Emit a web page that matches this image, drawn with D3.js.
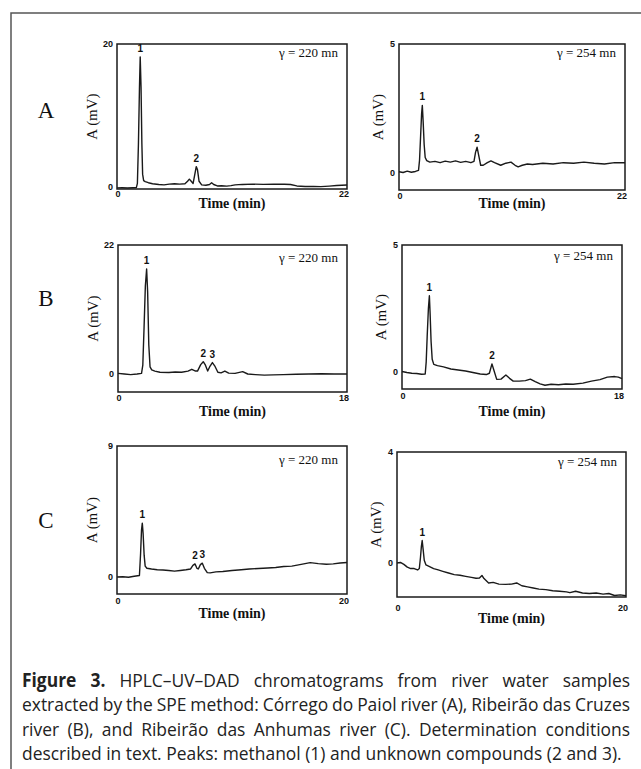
<!DOCTYPE html>
<html>
<head>
<meta charset="utf-8">
<script src="https://cdn.jsdelivr.net/npm/d3@7"></script>
<style>
  html, body { margin: 0; padding: 0; background: #fff; }
  svg { display: block; }
  .frame { fill: none; stroke: #1a1a1a; stroke-width: 1.5; }
  .trace { fill: none; stroke: #1a1a1a; stroke-width: 1.4; stroke-linejoin: round; }
  .tick { font-family: "Liberation Sans", Arial, sans-serif; font-weight: bold; font-size: 9px; fill: #111; }
  .serif { font-family: "Liberation Serif", "Times New Roman", serif; fill: #111; }
  .caption { font-family: "Open Sans", sans-serif; font-size: 19px; fill: #222; }
</style>
</head>
<body>
<div id="chart"></div>
<script>
// chromatograms, [time (min), A (mV)]
const a220 = [[0,-0.12],[0.5,-0.1],[1.0,-0.13],[1.5,-0.1],[1.85,-0.08],[1.95,0.5],[2.05,6],[2.15,14],[2.22,18.2],[2.3,14],[2.38,6],[2.45,1.8],[2.55,0.9],[2.7,0.75],[3.0,0.6],[3.4,0.45],[4.0,0.35],[4.5,0.3],[5.0,0.4],[5.5,0.45],[6.0,0.4],[6.5,0.45],[6.75,0.8],[6.92,1.1],[7.1,0.8],[7.28,0.5],[7.42,1.6],[7.58,2.85],[7.7,2.4],[7.85,0.8],[8.1,0.3],[8.5,0.25],[8.85,0.35],[9.05,0.6],[9.25,0.35],[9.6,0.15],[10.0,0.18],[10.5,0.12],[10.9,0.2],[11.3,0.3],[12,0.36],[13,0.4],[14,0.37],[15,0.4],[16,0.38],[16.6,0.35],[17.2,0.15],[18,0.06],[18.8,0.08],[19.5,0.05],[20.3,0.12],[21,0.2],[22,0.28]];
const a254 = [[0,0.05],[0.4,0.02],[0.8,0.07],[1.2,0.03],[1.6,0.06],[1.9,0.1],[2.0,0.5],[2.1,1.4],[2.2,2.3],[2.27,2.62],[2.35,2.0],[2.45,1.1],[2.55,0.6],[2.7,0.48],[3.0,0.42],[3.5,0.45],[4.0,0.4],[4.5,0.46],[5.0,0.42],[5.5,0.47],[6.0,0.41],[6.5,0.45],[7.0,0.4],[7.3,0.45],[7.45,0.8],[7.6,1.0],[7.75,0.7],[7.95,0.3],[8.2,0.3],[8.6,0.4],[8.95,0.47],[9.3,0.4],[9.9,0.3],[10.4,0.38],[10.9,0.42],[11.3,0.3],[11.6,0.24],[12,0.3],[12.5,0.35],[13,0.33],[14,0.38],[15,0.35],[16,0.4],[17,0.38],[18,0.42],[19,0.38],[20,0.35],[21,0.4],[22,0.4]];
const b220 = [[0,0.1],[0.5,0],[1.0,-0.1],[1.5,0],[1.85,0.1],[1.95,1.5],[2.05,8],[2.15,15],[2.25,17.9],[2.33,14],[2.42,5],[2.52,1.2],[2.65,0.7],[2.9,0.5],[3.3,0.3],[4.0,0.25],[4.5,0.35],[5.0,0.3],[5.5,0.5],[5.8,0.8],[6.1,0.5],[6.25,0.5],[6.5,1.6],[6.7,2.1],[6.85,1.6],[7.05,0.5],[7.2,1.2],[7.42,1.95],[7.6,1.4],[7.85,0.3],[8.1,0.2],[8.4,0.5],[8.7,0.15],[9.2,0.1],[9.8,0.4],[10.2,0.0],[10.8,-0.1],[11.5,-0.2],[12.2,-0.15],[13,-0.1],[14,-0.05],[15,0.0],[16,0.05],[17,0.0],[18,0.0]];
const b254 = [[0,0.02],[0.4,-0.02],[0.8,-0.05],[1.2,-0.06],[1.6,-0.09],[1.9,-0.08],[1.98,0.4],[2.06,1.4],[2.16,2.5],[2.24,3.0],[2.3,2.3],[2.38,1.2],[2.47,0.5],[2.6,0.3],[2.9,0.25],[3.4,0.2],[4.0,0.12],[4.6,0.08],[5.2,0.04],[5.8,-0.02],[6.4,-0.08],[6.9,-0.1],[7.15,-0.05],[7.36,0.32],[7.5,0.1],[7.75,-0.29],[8.1,-0.28],[8.5,-0.12],[8.8,-0.25],[9.1,-0.36],[9.6,-0.36],[10.1,-0.34],[10.5,-0.28],[10.9,-0.38],[11.3,-0.47],[11.7,-0.52],[12.2,-0.48],[12.8,-0.5],[13.4,-0.47],[14,-0.48],[14.8,-0.44],[15.5,-0.36],[16.2,-0.3],[16.8,-0.2],[17.4,-0.18],[17.7,-0.2],[18,-0.26]];
const c220 = [[0,0.0],[0.5,0.02],[1.0,-0.02],[1.5,0.05],[1.95,0.1],[2.05,1.6],[2.13,3.2],[2.2,3.7],[2.27,3.0],[2.36,1.5],[2.45,0.75],[2.6,0.6],[3.0,0.55],[3.5,0.5],[4.0,0.48],[4.5,0.45],[5.0,0.4],[5.5,0.45],[6.0,0.5],[6.4,0.55],[6.6,0.8],[6.78,0.9],[6.95,0.6],[7.07,0.55],[7.25,0.85],[7.42,0.95],[7.6,0.6],[7.85,0.3],[8.1,0.28],[8.6,0.35],[9.2,0.38],[10,0.45],[10.8,0.5],[11.5,0.55],[12.3,0.58],[13.1,0.62],[13.8,0.65],[14.5,0.72],[15.2,0.75],[15.9,0.85],[16.8,0.99],[17.5,0.92],[18.2,0.88],[18.8,0.9],[19.4,0.96],[20,1.0]];
const c254 = [[0,0.0],[0.3,0.02],[0.6,-0.05],[0.9,-0.15],[1.2,-0.2],[1.5,-0.2],[1.8,-0.25],[1.95,-0.2],[2.05,0.2],[2.13,0.6],[2.2,0.81],[2.28,0.5],[2.38,0.1],[2.53,-0.07],[2.8,-0.12],[3.2,-0.2],[3.6,-0.25],[4.0,-0.3],[4.5,-0.36],[5.0,-0.42],[5.5,-0.44],[6.0,-0.48],[6.5,-0.52],[6.9,-0.55],[7.2,-0.54],[7.42,-0.45],[7.6,-0.56],[8.0,-0.72],[8.4,-0.7],[8.9,-0.76],[9.5,-0.77],[10.0,-0.76],[10.45,-0.72],[10.9,-0.82],[11.4,-0.86],[11.9,-0.9],[12.4,-0.94],[13,-0.96],[13.6,-1.0],[14.2,-1.02],[14.8,-1.04],[15.1,-1.07],[15.6,-1.02],[16.2,-1.08],[16.8,-1.1],[17.4,-1.08],[18,-1.12],[18.5,-1.1],[19,-1.17],[19.5,-1.15],[20,-1.18]];

// peak numbers [label, time, apex]
const peaksA220 = [["1",2.22,18.2],["2",7.58,2.85]];
const peaksA254 = [["1",2.27,2.62],["2",7.6,1.0]];
const peaksB220 = [["1",2.25,17.9],["2",6.7,2.1],["3",7.42,1.95]];
const peaksB254 = [["1",2.24,3.0],["2",7.36,0.32]];
const peaksC220 = [["1",2.2,3.7],["2",6.78,0.9],["3",7.42,0.95]];
const peaksC254 = [["1",2.2,0.81]];

const rowLetters = ["A", "B", "C"];
const timeMax = [22, 18, 20];          // per row
const yMaxLeft = [20, 22, 9];          // 220 nm panels
const yMaxRight = [5, 5, 4];           // 254 nm panels
const wavelengths = ["γ = 220 mn", "γ = 254 mn"];

const captionLines = [
  "HPLC–UV–DAD chromatograms from river water samples",
  "extracted by the SPE method: Córrego do Paiol river (A), Ribeirão das Cruzes",
  "river (B), and Ribeirão das Anhumas river (C). Determination conditions",
  "described in text. Peaks: methanol (1) and unknown compounds (2 and 3)."
];

// panel boxes in pixels: frame, y of zero line, offsets for labels
const panels = [
  { row: 0, col: 0, data: a220, peaks: peaksA220, box: [117, 44, 347, 189], zeroY: 187, gDy: 13, timeDy: 14, tickDy: 8 },
  { row: 0, col: 1, data: a254, peaks: peaksA254, box: [399, 44, 625, 190], zeroY: 173, gDy: 13, timeDy: 13, tickDy: 9 },
  { row: 1, col: 0, data: b220, peaks: peaksB220, box: [118, 245, 347, 392], zeroY: 374, gDy: 17, timeDy: 19, tickDy: 9 },
  { row: 1, col: 1, data: b254, peaks: peaksB254, box: [402, 245, 622, 389], zeroY: 372, gDy: 15, timeDy: 22, tickDy: 10 },
  { row: 2, col: 0, data: c220, peaks: peaksC220, box: [117, 446, 347, 594], zeroY: 577, gDy: 18, timeDy: 19, tickDy: 10 },
  { row: 2, col: 1, data: c254, peaks: peaksC254, box: [397, 452, 626, 597], zeroY: 563, gDy: 14, timeDy: 21, tickDy: 14 }
];
const letterY = [118, 306, 528];

const W = 641, H = 769;
const svg = d3.select("#chart").append("svg").attr("width", W).attr("height", H);
svg.append("rect").attr("width", W).attr("height", H).attr("fill", "#fff");

// outer box of the figure
svg.append("path").attr("d", `M11,${H} V13 H${W}`)
  .attr("fill", "none").attr("stroke", "#555").attr("stroke-width", 1.5);

rowLetters.forEach((l, i) => {
  svg.append("text").attr("class", "serif").attr("x", 46).attr("y", letterY[i])
    .attr("text-anchor", "middle").style("font-size", "23px").text(l);
});

panels.forEach(p => {
  const [x0, y0, x1, y1] = p.box;
  const ymax = p.col === 0 ? yMaxLeft[p.row] : yMaxRight[p.row];
  const ymin = -(y1 - p.zeroY) / (p.zeroY - y0) * ymax;
  const tmax = timeMax[p.row];

  const x = d3.scaleLinear().domain([0, tmax]).range([x0, x1]);
  const y = d3.scaleLinear().domain([ymin, ymax]).range([y1, y0]);
  const g = svg.append("g");

  const line = d3.line().x(d => x(d[0])).y(d => y(d[1]));
  g.append("path").datum(p.data).attr("class", "trace").attr("d", line);

  g.append("rect").attr("class", "frame")
    .attr("x", x0).attr("y", y0).attr("width", x1 - x0).attr("height", y1 - y0);

  // y ticks: only top value and zero
  [ymax, 0].forEach(v => {
    g.append("text").attr("class", "tick")
      .attr("x", x0 - 4).attr("y", v === ymax ? y0 + 3 : y(0) + 3)
      .attr("text-anchor", "end").text(v);
  });
  // x ticks: 0 and end
  g.append("text").attr("class", "tick").attr("x", x0 + 1).attr("y", y1 + p.tickDy)
    .attr("text-anchor", "middle").text(0);
  g.append("text").attr("class", "tick").attr("x", x1 - 3).attr("y", y1 + p.tickDy)
    .attr("text-anchor", "middle").text(tmax);

  g.append("text").attr("class", "serif").style("font-size", "14px").style("font-weight", "bold")
    .attr("x", (x0 + x1) / 2).attr("y", y1 + p.timeDy + 5).attr("text-anchor", "middle")
    .text("Time (min)");

  const labX = p.col === 0 ? x0 - 20 : x0 - 16;
  g.append("text").attr("class", "serif").style("font-size", "15px")
    .attr("transform", `translate(${labX},${(y0 + y1) / 2}) rotate(-90)`)
    .attr("text-anchor", "middle").text("A (mV)");

  g.append("text").attr("class", "serif").style("font-size", "13px")
    .attr("x", x1 - 9).attr("y", y0 + p.gDy).attr("text-anchor", "end")
    .text(wavelengths[p.col]);

  g.selectAll(".peak").data(p.peaks).enter().append("text")
    .attr("class", "tick").style("font-size", "10px")
    .attr("x", d => x(d[1])).attr("y", d => y(d[2]) - 5)
    .attr("text-anchor", "middle").text(d => d[0]);
});

// caption: narrowed face, lines justified to the column width
const capX = 22, capW = 608, lastW = 600, capY0 = 687, capDy = 24.3;
const capG = svg.append("g");
const capTexts = captionLines.map((txt, i) => {
  const t = capG.append("text").attr("class", "caption").attr("x", 0).attr("y", 0);
  if (i === 0) t.append("tspan").style("font-weight", "bold").text("Figure 3. ");
  t.append("tspan").text(txt);
  return t;
});
const sx = lastW / capTexts[3].node().getComputedTextLength();
capTexts.forEach((t, i) => {
  t.attr("transform", `translate(${capX},${capY0 + i * capDy}) scale(${sx},1)`);
  if (i < captionLines.length - 1) {
    const natural = t.node().getComputedTextLength();
    const full = (i === 0 ? "Figure 3. " : "") + captionLines[i];
    const spaces = full.split(" ").length - 1;
    t.style("word-spacing", ((capW / sx - natural) / spaces) + "px");
  }
});
</script>
</body>
</html>
